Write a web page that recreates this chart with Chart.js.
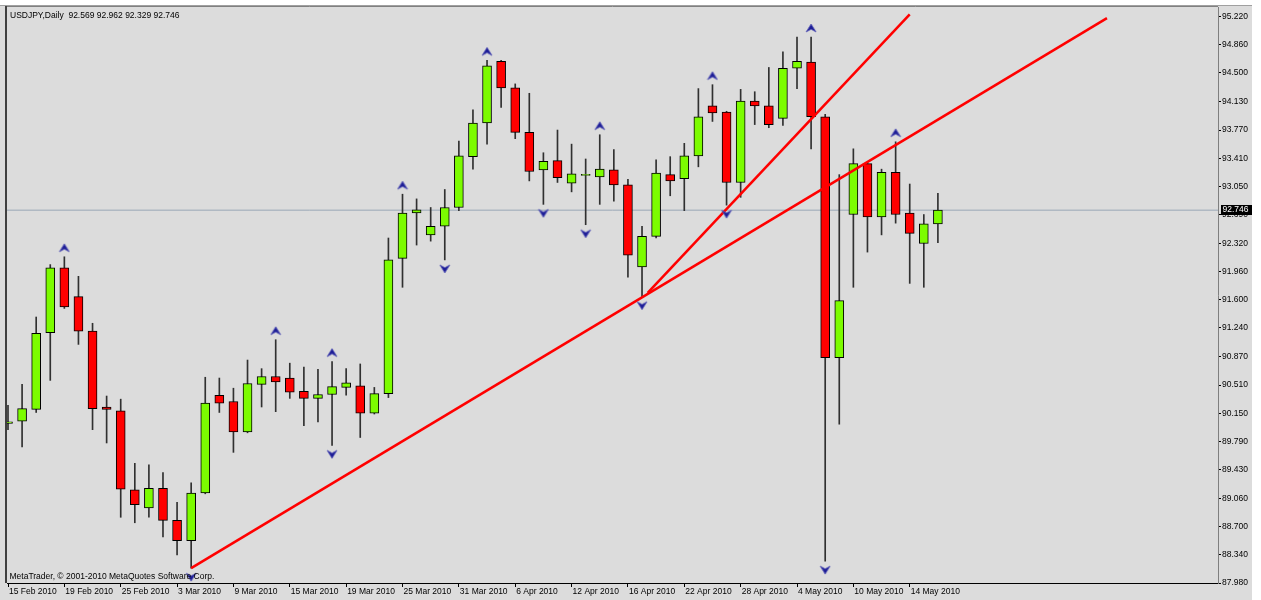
<!DOCTYPE html>
<html><head><meta charset="utf-8">
<script src="https://cdn.jsdelivr.net/npm/chart.js@4.4.0/dist/chart.umd.min.js"></script>
<style>html,body{margin:0;padding:0;background:#fff;overflow:hidden}#wrap{width:1261px;height:600px;position:relative}</style>
</head><body><div id="wrap"><canvas id="c" width="1261" height="600"></canvas></div>
<script>
// ---- data ----
const symbolTitle = "USDJPY,Daily";
const copyrightText = "MetaTrader, \u00A9 2001-2010 MetaQuotes Software Corp.";
const dateLabels = ["15 Feb 2010","19 Feb 2010","25 Feb 2010","3 Mar 2010","9 Mar 2010","15 Mar 2010","19 Mar 2010","25 Mar 2010","31 Mar 2010","6 Apr 2010","12 Apr 2010","16 Apr 2010","22 Apr 2010","28 Apr 2010","4 May 2010","10 May 2010","14 May 2010"];
const opens  = [90.02,90.05,90.20,91.18,92.01,91.64,91.20,90.23,90.18,89.17,88.94,89.19,88.78,88.52,89.13,90.38,90.30,89.91,90.52,90.62,90.60,90.43,90.34,90.39,90.48,90.50,90.15,90.40,92.13,92.71,92.43,92.54,92.78,93.43,93.86,94.65,94.31,93.74,93.26,93.38,93.09,93.19,93.17,93.26,93.07,92.02,92.41,93.20,93.15,93.44,94.08,94.00,93.10,94.14,94.08,93.92,94.56,94.64,93.94,90.86,92.69,93.34,92.66,93.23,92.71,92.32,92.569];
const highs  = [90.25,90.52,91.38,92.05,92.15,91.90,91.30,90.37,90.33,89.51,89.49,89.39,89.01,89.26,90.61,90.60,90.47,90.83,90.72,91.09,90.79,90.74,90.71,90.81,90.72,90.78,90.48,92.39,92.95,92.89,92.78,93.01,93.63,94.03,94.66,94.66,94.36,94.24,93.48,93.77,93.59,93.40,93.71,93.52,93.14,92.54,93.39,93.43,93.60,94.30,94.35,94.01,94.29,94.26,94.57,94.77,94.96,94.96,93.97,93.20,93.53,93.35,93.27,93.62,93.08,92.69,92.962];
const lows   = [89.94,89.72,90.16,90.57,91.49,91.03,89.94,89.77,88.82,88.75,88.82,88.57,88.34,88.17,89.12,90.16,89.65,89.90,90.23,90.17,90.34,89.99,90.04,89.74,90.38,89.84,90.14,90.35,91.76,92.30,92.35,92.11,92.74,93.27,93.59,94.06,93.66,93.12,92.82,93.10,92.98,92.56,92.82,92.86,91.89,91.64,92.39,92.93,92.74,93.30,93.88,92.81,92.91,93.84,93.80,93.83,94.30,93.53,88.26,90.01,91.76,92.21,92.43,92.58,91.81,91.76,92.329];
const closes = [90.04,90.21,91.17,92.01,91.51,91.20,90.21,90.20,89.18,88.98,89.19,88.78,88.52,89.13,90.28,90.28,89.91,90.53,90.62,90.55,90.42,90.34,90.39,90.49,90.54,90.15,90.40,92.11,92.71,92.75,92.54,92.78,93.44,93.86,94.59,94.31,93.74,93.24,93.37,93.16,93.21,93.19,93.27,93.07,92.17,92.41,93.22,93.12,93.44,93.94,93.99,93.10,94.14,94.08,93.84,94.56,94.65,93.94,90.86,91.59,93.34,92.66,93.23,92.69,92.45,92.57,92.746];
const upFractals   = [4,19,23,28,34,42,50,57,63];
const downFractals = [13,23,31,38,41,45,51,58];
const priceTicks = [87.98,88.34,88.70,89.06,89.43,89.79,90.15,90.51,90.87,91.24,91.60,91.96,92.32,92.69,93.05,93.41,93.77,94.13,94.50,94.86,95.22];
const trendA = [{x:13, y:88.17},{x:78, y:95.20}];
const trendB = [{x:45.4, y:91.69},{x:64, y:95.25}];
const bidPrice = closes[closes.length-1];

// ---- helpers ----
const idx = opens.map((_, i) => i);
function glyph(up){
  const c = document.createElement('canvas'); c.width = 12; c.height = 28;
  const g = c.getContext('2d');
  g.fillStyle = '#1e1e96'; g.strokeStyle = '#5a5ab8'; g.lineWidth = 0.8;
  g.beginPath();
  if (up){ g.moveTo(6,1); g.lineTo(11,9); g.lineTo(6,6.3); g.lineTo(1,9); }
  else   { g.moveTo(6,27); g.lineTo(11,19); g.lineTo(6,21.7); g.lineTo(1,19); }
  g.closePath(); g.fill(); g.stroke();
  return c;
}
const upGlyph = glyph(true), downGlyph = glyph(false);
const FONT = 'Liberation Sans, Arial, sans-serif';

const frame = {
  id:'frame',
  beforeDraw(chart){
    const ctx = chart.ctx, a = chart.chartArea;
    ctx.save();
    ctx.fillStyle = '#ffffff'; ctx.fillRect(0,0,1261,600);
    ctx.fillStyle = '#dcdcdc'; ctx.fillRect(0,5,1252,595);
    ctx.strokeStyle = '#a0a0a0'; ctx.lineWidth = 1;
    ctx.beginPath(); ctx.moveTo(0,5.5); ctx.lineTo(1252,5.5); ctx.stroke();
    ctx.strokeStyle = '#404040'; ctx.lineWidth = 2;
    ctx.beginPath(); ctx.moveTo(6,6); ctx.lineTo(6,a.bottom); ctx.stroke();
    ctx.strokeStyle = '#808080'; ctx.lineWidth = 1;
    ctx.beginPath(); ctx.moveTo(a.left,6.5); ctx.lineTo(a.right,6.5); ctx.stroke();
    ctx.restore();
  },
  afterDraw(chart){
    const ctx = chart.ctx, y = chart.scales.y;
    ctx.save();
    ctx.fillStyle = '#000';
    ctx.font = '8.5px ' + FONT; ctx.textBaseline = 'alphabetic'; ctx.textAlign = 'left';
    ctx.fillText(symbolTitle + '  ' + [opens, highs, lows, closes].map(a => a[a.length-1].toFixed(3)).join(' '), 10, 17.5);
    ctx.fillText(copyrightText, 9.5, 578.5);
    const py = y.getPixelForValue(bidPrice);
    ctx.fillStyle = '#000'; ctx.fillRect(1221, Math.round(py)-5, 31, 10);
    ctx.fillStyle = '#fff'; ctx.textBaseline = 'middle';
    ctx.fillText(bidPrice.toFixed(3), 1222.5, Math.round(py));
    ctx.restore();
  }
};

new Chart(document.getElementById('c'), {
  type: 'bar',
  data: { datasets: [
    { type:'line', data:[{x:-5,y:bidPrice},{x:100,y:bidPrice}], borderColor:'#9aa8b6', borderWidth:1, pointRadius:0, order:10 },
    { type:'bar', data: idx.map(i => ({x:i, y:[lows[i], highs[i]]})), backgroundColor:'#303030', borderWidth:0, barThickness:1, grouped:false, order:5 },
    { type:'bar', data: idx.map(i => ({x:i, y:[opens[i], closes[i]]})),
      backgroundColor: idx.map(i => closes[i] >= opens[i] ? '#7cfc00' : '#ff0000'),
      borderColor:'#000', borderWidth:1, borderSkipped:false, barThickness:9, minBarLength:1, grouped:false, order:4 },
    { type:'line', data: trendA, borderColor:'#ff0000', borderWidth:2.5, pointRadius:0, order:1 },
    { type:'line', data: trendB, borderColor:'#ff0000', borderWidth:2.5, pointRadius:0, order:1 },
    { type:'scatter', data: upFractals.map(i => ({x:i, y:highs[i]})), pointStyle: upGlyph, pointRadius:6, order:0 },
    { type:'scatter', data: downFractals.map(i => ({x:i, y:lows[i]})), pointStyle: downGlyph, pointRadius:6, order:0 }
  ]},
  options: {
    responsive:false, animation:false, devicePixelRatio:1,
    layout:{ padding:{ left:7, top:6, right:0, bottom:0 } },
    plugins:{ legend:{display:false}, tooltip:{enabled:false} },
    scales:{
      x:{ type:'linear', min:-0.071, max:85.88, offset:false,
        afterBuildTicks: s => { s.ticks = dateLabels.map((d,k) => ({value:k*4})); },
        afterFit: s => { s.height = 17; s.paddingLeft = 0; s.paddingRight = 0; },
        ticks:{ callback: v => dateLabels[Math.round(v/4)], align:'start', autoSkip:false, maxRotation:0, minRotation:0, padding:0, labelOffset:1, color:'#000', font:{family:FONT, size:8.5} },
        grid:{ drawOnChartArea:false, drawTicks:true, tickLength:4, color:'#000', offset:false },
        border:{ display:true, color:'#000', width:1 } },
      y:{ type:'linear', position:'right', min:87.98, max:95.343, beginAtZero:false,
        afterBuildTicks: s => { s.ticks = priceTicks.map(v => ({value:v})); },
        afterFit: s => { s.width = 43; s.paddingTop = 0; s.paddingBottom = 0; },
        ticks:{ callback: v => v.toFixed(3), autoSkip:false, padding:1, color:'#000', font:{family:FONT, size:8.5} },
        grid:{ drawOnChartArea:false, drawTicks:true, tickLength:3, color:'#000' },
        border:{ display:true, color:'#7f7f7f', width:1 } }
    }
  },
  plugins:[frame]
});
</script>
</body></html>
